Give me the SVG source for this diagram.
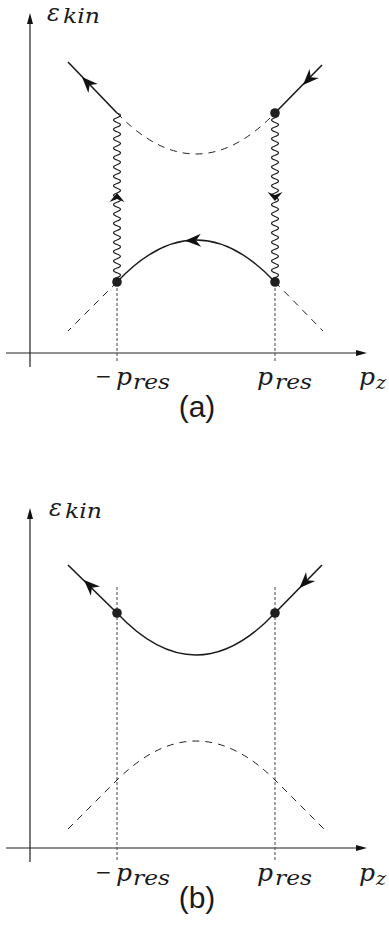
<svg xmlns="http://www.w3.org/2000/svg" xmlns:xlink="http://www.w3.org/1999/xlink" width="389" height="926" viewBox="0 0 389 926">
<style>
.ax{stroke:#222;stroke-width:1.2;fill:none}
.sol{stroke:#1a1a1a;stroke-width:1.6;fill:none}
.arc{stroke:#1a1a1a;stroke-width:1.4;fill:none}
.dsh{stroke:#222;stroke-width:1;fill:none;stroke-dasharray:7,6}
.vd{stroke:#444;stroke-width:1;fill:none;stroke-dasharray:3,2}
.wav{stroke:#1a1a1a;stroke-width:1.1;fill:none}
.dot{fill:#1f1f1f}
.ah{fill:#111}
.m{font-family:"DejaVu Serif",serif;font-style:italic;fill:#1a1a1a}
.u{font-family:"DejaVu Serif",serif;fill:#1a1a1a}
.cap{font-family:"Liberation Sans",Arial,sans-serif;fill:#1a1a1a;text-anchor:middle}
</style>
<defs>
<path id="ah" d="M0,0 L-16,-6.5 L-11,0 L-16,6.5 Z"/>
<path id="ahw" d="M0,0 L-9,-7.5 L-6,0 L-9,7.5 Z"/>
<path id="tri" d="M0,0 L-11,-3 L-11,3 Z"/>
</defs>

<!-- ===== Panel (a) ===== -->
<g id="panel-a">
  <g id="axes-a">
    <line class="ax" x1="30" y1="367" x2="30" y2="20"/>
    <use href="#tri" class="ah" transform="translate(30,13) rotate(-90)"/>
    <line class="ax" x1="6" y1="353" x2="360" y2="353"/>
    <use href="#tri" class="ah" transform="translate(367,353)"/>
  </g>
  <g id="connectors-a">
    <line class="vd" x1="117" y1="283" x2="117" y2="362"/>
    <line class="vd" x1="275" y1="283" x2="275" y2="362"/>
    <path class="dsh" d="M117,113 Q196,195 275,113"/>
    <path class="dsh" d="M117,282 L68,331"/>
    <path class="dsh" d="M275,282 L323,331"/>
    <path class="sol" d="M117,113 L68,62"/>
    <path class="sol" d="M275,113 L322,65"/>
    <path class="arc" d="M117,282 Q196,198 275,282"/>
    <path class="wav" d="M117,113 q7,2.35 0,4.7 t0,4.7 t0,4.7 t0,4.7 t0,4.7 t0,4.7 t0,4.7 t0,4.7 t0,4.7 t0,4.7 t0,4.7 t0,4.7 t0,4.7 t0,4.7 t0,4.7 t0,4.7 t0,4.7 t0,4.7 t0,4.7 t0,4.7 t0,4.7 t0,4.7 t0,4.7 t0,4.7 t0,4.7 t0,4.7 t0,4.7 t0,4.7 t0,4.7 t0,4.7 t0,4.7 t0,4.7 t0,4.7 t0,4.7 t0,4.7 t0,4.7"/>
    <path class="wav" d="M275,113 q7,2.35 0,4.7 t0,4.7 t0,4.7 t0,4.7 t0,4.7 t0,4.7 t0,4.7 t0,4.7 t0,4.7 t0,4.7 t0,4.7 t0,4.7 t0,4.7 t0,4.7 t0,4.7 t0,4.7 t0,4.7 t0,4.7 t0,4.7 t0,4.7 t0,4.7 t0,4.7 t0,4.7 t0,4.7 t0,4.7 t0,4.7 t0,4.7 t0,4.7 t0,4.7 t0,4.7 t0,4.7 t0,4.7 t0,4.7 t0,4.7 t0,4.7 t0,4.7"/>
    <use href="#ah" class="ah" transform="translate(82,77) rotate(-133.9)"/>
    <use href="#ah" class="ah" transform="translate(303,85) rotate(134.4)"/>
    <use href="#ah" class="ah" transform="translate(185,240.8) rotate(178)"/>
    <use href="#ahw" class="ah" transform="translate(117,193) rotate(-90)"/>
    <use href="#ahw" class="ah" transform="translate(275,201) rotate(90)"/>
  </g>
  <g id="a-top-right"><circle class="dot" cx="275" cy="113" r="4.8"/></g>
  <g id="a-bottom-left"><circle class="dot" cx="117" cy="282" r="4.8"/></g>
  <g id="a-bottom-right"><circle class="dot" cx="275" cy="282" r="4.8"/></g>
  <g id="labels-a">
    <text class="m" x="47" y="21" font-size="24">ε</text>
    <text class="m" x="63" y="23" font-size="21" textLength="37" lengthAdjust="spacingAndGlyphs">kin</text>
    <text class="u" x="95" y="383" font-size="20">−</text>
    <text class="m" x="116" y="385" font-size="25">p</text>
    <text class="m" x="133" y="389" font-size="20" textLength="37" lengthAdjust="spacingAndGlyphs">res</text>
    <text class="m" x="257" y="385" font-size="25">p</text>
    <text class="m" x="275" y="389" font-size="20" textLength="37" lengthAdjust="spacingAndGlyphs">res</text>
    <text class="m" x="359" y="385" font-size="25">p</text>
    <text class="m" x="376" y="389" font-size="19">z</text>
    <text class="cap" x="197" y="417" font-size="30">(a)</text>
  </g>
</g>

<!-- ===== Panel (b) ===== -->
<g id="panel-b">
  <g id="axes-b">
    <line class="ax" x1="30" y1="862" x2="30" y2="515"/>
    <use href="#tri" class="ah" transform="translate(30,508) rotate(-90)"/>
    <line class="ax" x1="6" y1="848" x2="360" y2="848"/>
    <use href="#tri" class="ah" transform="translate(367,848)"/>
  </g>
  <g id="connectors-b">
    <line class="vd" x1="117" y1="587" x2="117" y2="862"/>
    <line class="vd" x1="275" y1="587" x2="275" y2="862"/>
    <path class="dsh" d="M68,829 L117,780 Q196,702 275,780 L324,829"/>
    <path class="sol" d="M117,613 L68,565"/>
    <path class="sol" d="M275,613 L322,565"/>
    <path class="arc" d="M117,613 Q196,697 275,613"/>
    <use href="#ah" class="ah" transform="translate(84,580) rotate(-135.6)"/>
    <use href="#ah" class="ah" transform="translate(299.5,588) rotate(134.4)"/>
  </g>
  <g id="b-left"><circle class="dot" cx="117" cy="613" r="4.8"/></g>
  <g id="b-right"><circle class="dot" cx="275" cy="613" r="4.8"/></g>
  <g id="labels-b">
    <text class="m" x="49" y="516" font-size="24">ε</text>
    <text class="m" x="65" y="518" font-size="21" textLength="37" lengthAdjust="spacingAndGlyphs">kin</text>
    <text class="u" x="95" y="879" font-size="20">−</text>
    <text class="m" x="116" y="881" font-size="25">p</text>
    <text class="m" x="133" y="885" font-size="20" textLength="37" lengthAdjust="spacingAndGlyphs">res</text>
    <text class="m" x="257" y="881" font-size="25">p</text>
    <text class="m" x="275" y="885" font-size="20" textLength="37" lengthAdjust="spacingAndGlyphs">res</text>
    <text class="m" x="359" y="881" font-size="25">p</text>
    <text class="m" x="376" y="885" font-size="19">z</text>
    <text class="cap" x="197" y="908" font-size="30">(b)</text>
  </g>
</g>
</svg>
